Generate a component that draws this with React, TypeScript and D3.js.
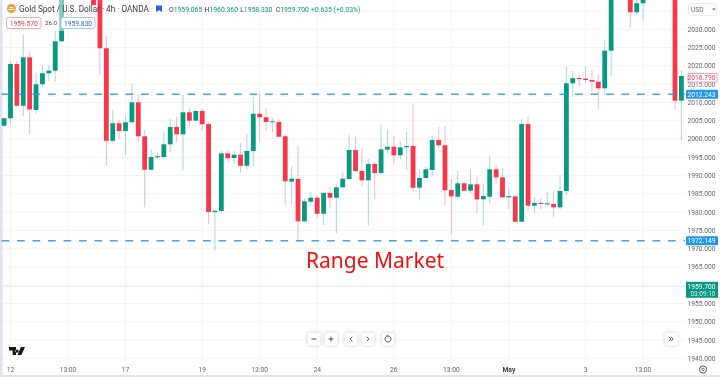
import React from "react";
import * as d3 from "d3";

const opens = [2003.63,2005.65,2020.51,2009.10,2022.34,2007.92,2014.96,2017.97,2018.68,2026.72,2040,2044,2041,2043,2042,2039,2024.81,1999.52,2004.29,2002.18,2004.56,2010.03,2000.73,1991.59,1994.98,1995.06,1998.54,2003.27,2001.28,2007.29,2005.00,2007.65,2004.09,1980.02,1980.29,1996.08,1994.79,1995.69,1992.68,1996.71,2006.91,2005.93,2004.64,2004.64,2000.73,1988.31,1989.05,1977.47,1982.84,1983.93,1979.55,1985.22,1983.93,1986.77,1989.05,1996.98,1991.23,1988.69,1993.15,1990.69,1997.06,1997.88,1995.53,1997.72,1998.07,1986.66,1989.32,1991.51,1999.72,1998.27,1986.04,1984.20,1987.87,1985.84,1987.60,1983.49,1984.20,1991.70,1989.51,1984.04,1984.31,1977.36,2004.09,1981.74,1982.48,1982.12,1982.21,1981.30,1985.76,2015.23,2016.68,2016.49,2016.13,2015.67,2013.86,2024.15,2041,2045,2043,2034.65,2037.12,2040,2044,2042,2046,2045,2010.47];
const highs = [2005.74,2021.33,2021.33,2028.44,2023.87,2018.13,2019.96,2020.24,2029.54,2042,2046,2047,2045,2046,2043,2041,2028.17,2007.92,2005.19,2006.36,2015.04,2012.22,2002.45,1997.25,1996.35,2001.99,2005.46,2006.01,2012.03,2008.39,2007.84,2008.39,2004.56,1980.43,1996.71,1996.98,1996.71,1998.90,2001.36,2011.56,2012.66,2008.39,2005.65,2005.38,2001.08,1992.52,1998.16,1983.57,1985.41,1984.67,1985.41,1986.94,1987.68,1990.88,2001.08,2000.62,1997.45,1994.52,1993.78,2004.01,2002.64,2000.81,1999.44,2001.90,2009.57,1991.78,1992.41,2001.00,2003.35,2003.55,1988.96,1991.23,1988.03,1991.78,1989.67,1987.68,1995.34,1992.88,1991.97,1986.50,1984.39,2005.46,2006.09,1984.04,1983.77,1985.41,1985.84,1990.14,2019.77,2018.59,2017.42,2019.77,2018.87,2017.69,2027.08,2045,2047,2048,2045,2039,2042,2046,2047,2048,2049,2048,2018.87];
const lows = [2003.27,2004.18,2008.74,2006.36,2001.28,2006.91,2014.30,2015.86,2015.67,2026.5,2038.8,2040,2039.5,2040,2036.3,2017.50,1992.60,1998.70,1999.91,1995.61,2004.01,1999.25,1981.30,1991.51,1994.52,1994.60,1996.51,1999.25,1991.43,2003.63,2004.91,2002.26,1976.73,1969.43,1979.55,1993.78,1993.15,1990.77,1991.51,1992.41,1999.25,2002.26,2001.90,2000.55,1982.01,1982.29,1971.89,1977.09,1981.74,1978.29,1976.46,1981.19,1974.19,1986.58,1988.96,1991.04,1987.13,1976.27,1983.57,1990.14,1996.08,1993.34,1994.52,1991.51,1985.57,1983.49,1989.24,1989.67,1997.45,1981.93,1974.00,1983.65,1985.76,1985.13,1979.66,1976.27,1982.40,1987.60,1983.93,1980.84,1977.28,1977.28,1980.10,1979.66,1980.84,1981.47,1978.57,1980.75,1984.67,2011.56,2014.49,2015.23,2012.93,2008.20,2012.03,2017.23,2039,2040,2030.55,2033.92,2032.36,2039,2040,2041,2042,2007.92,1999.72];
const closes = [2005.65,2020.51,2009.10,2022.34,2008.06,2014.96,2017.97,2018.68,2026.72,2040,2044,2041,2043,2042,2036.65,2024.81,1999.52,2004.29,2002.18,2004.56,2010.03,2000.73,1991.59,1995.06,1995.26,1998.54,2003.27,2001.28,2007.29,2005.00,2007.65,2004.01,1980.02,1980.37,1996.08,1994.71,1995.69,1992.68,1996.71,2006.91,2005.93,2004.64,2004.83,2000.62,1988.42,1989.13,1977.47,1982.94,1983.93,1979.55,1985.22,1983.93,1986.77,1989.13,1996.98,1991.23,1988.69,1993.15,1990.69,1997.17,1997.88,1995.53,1997.72,1998.07,1986.66,1989.32,1991.70,1999.72,1998.27,1985.95,1984.31,1987.87,1985.84,1987.60,1983.49,1984.39,1991.70,1989.51,1984.04,1984.39,1977.36,2004.09,1981.74,1982.48,1982.21,1982.40,1981.30,1985.76,2015.23,2016.60,2016.49,2016.13,2015.67,2013.86,2024.15,2041,2045,2043,2034.65,2037.12,2040,2044,2042,2046,2045,2010.47,2017.23];

const priceTicks = d3.range(2035, 1935, -5);
const hiddenPriceLabels = [2035, 1960];
const timeTickIndex = [1, 10, 19, 31, 40, 49, 61, 70, 79, 91, 100];
const timeTickLabel = ["12", "13:00", "17", "19", "13:00", "24", "26", "13:00", "May", "3", "13:00"];
const supportResistance = [2012.243, 1972.149];
const lastPrice = 1959.7;
const askedPrice = "2016.790";
const legendValues = [["O", "1959.065"], ["H", "1960.360"], ["L", "1958.330"], ["C", "1959.700"]];

const GREEN = "#089981";
const RED = "#f7374a";
const BLUE = "#2196f3";
const FONT = "Roboto, sans-serif";
const AXIS = 6.7;

const x = d3.scaleLinear().domain([0, 106]).range([4.1, 681.4]);
const y = d3.scaleLinear().domain([2030, 1940]).range([29.3, 358.3]);
const PLOT_R = 685;

function Btn({ cx, cy, children }: { cx: number; cy: number; children: React.ReactNode }) {
  return (
    <g>
      <rect x={cx - 6.5} y={cy - 6.5} width={13} height={13} rx={2.5} fill="#fff" style={{ filter: "drop-shadow(0 0.5px 1.5px rgba(0,0,0,.22))" }} />
      <g fill="none" stroke="#555" strokeWidth={1}>{children}</g>
    </g>
  );
}

export default function App() {
  return (
    <svg width={720} height={377} viewBox="0 0 720 377" style={{ position: "fixed", left: 0, top: 0, background: "#fff", filter: "blur(0.35px)" }} fontFamily={FONT}>
      <rect x={0} y={0} width={2.5} height={377} fill="#e1e4ee" />
      <rect x={0} y={375} width={720} height={2} fill="#e1e4ee" />

      {priceTicks.map((p) => (
        <line key={p} x1={2.5} x2={PLOT_R} y1={y(p)} y2={y(p)} stroke="#f4f5f8" />
      ))}
      {timeTickIndex.map((i) => (
        <line key={i} x1={x(i)} x2={x(i)} y1={0} y2={360} stroke="#f4f5f8" />
      ))}

      <g>
        {opens.map((o, i) => {
          const c = closes[i];
          const col = c >= o ? GREEN : RED;
          const top = y(Math.max(o, c));
          const h = Math.max(1, y(Math.min(o, c)) - top);
          return (
            <g key={i}>
              <line x1={x(i)} x2={x(i)} y1={y(highs[i])} y2={y(lows[i])} stroke={col} strokeOpacity={0.35} strokeWidth={1} />
              <rect x={x(i) - 2.4} y={top} width={4.8} height={h} fill={col} />
            </g>
          );
        })}
      </g>

      {supportResistance.map((p) => (
        <line key={p} x1={1.5} x2={PLOT_R} y1={y(p)} y2={y(p)} stroke={BLUE} strokeOpacity={0.85} strokeWidth={1.5} strokeDasharray="7.7 7.8" />
      ))}
      <line x1={2.5} x2={PLOT_R} y1={y(lastPrice)} y2={y(lastPrice)} stroke={GREEN} strokeOpacity={0.14} strokeWidth={1} />

      <text x={375} y={267.5} textAnchor="middle" fontSize={21} fill="#fb0d0d" fontFamily="'Noto Sans', sans-serif">Range Market</text>

      {/* legend */}
      <rect x={56} y={0} width={12} height={31} fill="#fff" opacity={0.5} />
      <circle cx={11.5} cy={8.5} r={4.5} fill="#e8a33d" />
      <path d="M8.5 9.5h6M9.5 7.5h4" stroke="#fff" strokeWidth={1} />
      <text x={19} y={12} fontSize={8.2} fill="#3a3e4a">Gold Spot / U.S. Dollar · 4h · OANDA</text>
      <path d="M156 5.5h6v6.5l-3-1.8-3 1.8z" fill="#2962ff" />
      {legendValues.map(([k, v], n) => (
        <text key={k} x={169 + n * 35.6} y={12} fontSize={6.8} fill={GREEN}>
          <tspan fill="#3a3e4a">{k}</tspan>{v}
        </text>
      ))}
      <text x={311} y={12} fontSize={6.8} fill={GREEN}>+0.635 (+0.03%)</text>

      <rect x={6.5} y={17.5} width={34.5} height={11} rx={2} fill="#fff" stroke="#f7a8ae" />
      <text x={23.7} y={25.5} textAnchor="middle" fontSize={AXIS} fill={RED}>1959.570</text>
      <text x={51} y={25.2} textAnchor="middle" fontSize={6.2} fill="#444">26.0</text>
      <rect x={61} y={17.5} width={34} height={11} rx={2} fill="#fff" stroke="#a9c8f7" />
      <text x={78} y={25.5} textAnchor="middle" fontSize={AXIS} fill="#2962ff">1959.830</text>

      {/* price axis */}
      <rect x={PLOT_R} y={0} width={35} height={375} fill="#fff" />
      {priceTicks.filter((p) => !hiddenPriceLabels.includes(p)).map((p) => (
        <text key={p} x={715.5} y={y(p) + 2.5} textAnchor="end" fontSize={AXIS} fill="#62666f">{d3.format(".3f")(p)}</text>
      ))}
      <rect x={688.5} y={3.5} width={28} height={12} rx={2.5} fill="#fff" stroke="#eceef2" />
      <text x={691} y={12} fontSize={6.6} fill="#62666f">USD</text>
      <path d="M712 8.5h4l-2 2z" fill="#62666f" />

      <rect x={688} y={73.5} width={29} height={8.5} fill="#fff" stroke="#f7a8ae" />
      <text x={715.5} y={80.2} textAnchor="end" fontSize={AXIS} fill={RED}>{askedPrice}</text>
      {supportResistance.map((p) => (
        <g key={p}>
          <rect x={686} y={y(p) - 4.5} width={32} height={9} rx={1} fill={BLUE} />
          <text x={715.5} y={y(p) + 2.5} textAnchor="end" fontSize={AXIS} fill="#fff">{d3.format(".3f")(p)}</text>
        </g>
      ))}
      <rect x={686} y={y(lastPrice) - 4.5} width={32} height={16} fill={GREEN} />
      <text x={715.5} y={y(lastPrice) + 2.5} textAnchor="end" fontSize={AXIS} fill="#fff">{d3.format(".3f")(lastPrice)}</text>
      <text x={715.5} y={y(lastPrice) + 9.3} textAnchor="end" fontSize={6.5} fill="#d5efe9">03:09:10</text>

      {/* time axis */}
      {timeTickIndex.map((i, k) => (
        <text key={k} x={x(i)} y={371.6} textAnchor="middle" fontSize={AXIS} fill={timeTickLabel[k] === "May" ? "#333" : "#62666f"} fontWeight={timeTickLabel[k] === "May" ? 600 : 400}>{timeTickLabel[k]}</text>
      ))}
      <circle cx={703} cy={369.5} r={3.6} fill="none" stroke="#555" strokeWidth={1} />
      <circle cx={703} cy={369.5} r={1.3} fill="none" stroke="#555" strokeWidth={0.8} />

      {/* tv logo */}
      <path d="M9 347h7v8h-3.4v-4.6H9zM17 349.5a1.6 1.6 0 1 0 .01 0zM21 347h4l-3.6 8h-4z" fill="#131722" />

      {/* controls */}
      <Btn cx={314} cy={339}><path d="M311.5 339h5" /></Btn>
      <Btn cx={331} cy={339}><path d="M328.5 339h5M331 336.5v5" /></Btn>
      <Btn cx={351} cy={339}><path d="M352.3 336.8l-2.2 2.2 2.2 2.2" /></Btn>
      <Btn cx={368} cy={339}><path d="M366.7 336.8l2.2 2.2-2.2 2.2" /></Btn>
      <Btn cx={388} cy={339}><path d="M385.6 337.2a3 3 0 1 0 2.4-1.2h-1M387.5 334.8l-1.3 1.3 1.3 1.3" /></Btn>
      <Btn cx={671} cy={339}><path d="M668.8 336.8l2.2 2.2-2.2 2.2M671 336.8l2.2 2.2-2.2 2.2" /></Btn>
    </svg>
  );
}
